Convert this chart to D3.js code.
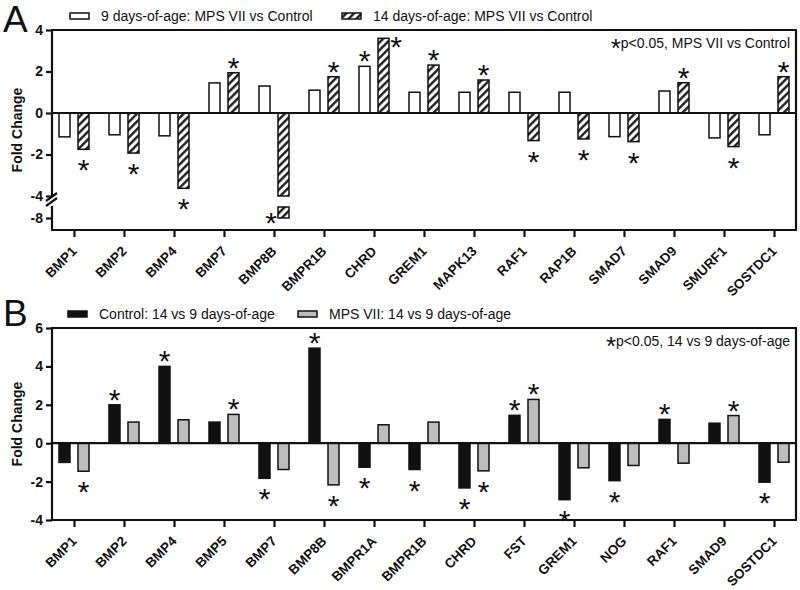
<!DOCTYPE html>
<html>
<head>
<meta charset="utf-8">
<script src="https://cdn.jsdelivr.net/npm/d3@7"></script>
<style>
    body { margin: 0; background: #fff; }
    svg text { font-family: "Liberation Sans", Arial, sans-serif; fill: #111; }
</style>
</head>
<body>
<svg id="chart"></svg>
<script>
// panel A: MPS VII vs Control
let genesA = ["BMP1", "BMP2", "BMP4", "BMP7", "BMP8B", "BMPR1B", "CHRD", "GREM1", "MAPK13",
    "RAF1", "RAP1B", "SMAD7", "SMAD9", "SMURF1", "SOSTDC1"];
let day9 = [-1.15, -1.05, -1.1, 1.45, 1.3, 1.1, 2.25, 1.0, 1.0, 1.0, 1.0, -1.14, 1.06, -1.2, -1.05];
let day14 = [-1.75, -1.93, -3.63, 1.94, -8.0, 1.75, 3.6, 2.31, 1.59, -1.33, -1.25, -1.38, 1.46, -1.62, 1.75];
let day9Sig = [0, 0, 0, 0, 0, 0, 1, 0, 0, 0, 0, 0, 0, 0, 0];
let day14Sig = [1, 1, 1, 1, 1, 1, 1, 1, 1, 1, 1, 1, 1, 1, 1];
let ticksA = [-4, -2, 0, 2, 4];
let ticksALow = [-8];

// panel B: 14 vs 9 days-of-age
let genesB = ["BMP1", "BMP2", "BMP4", "BMP5", "BMP7", "BMP8B", "BMPR1A", "BMPR1B", "CHRD", "FST",
    "GREM1", "NOG", "RAF1", "SMAD9", "SOSTDC1"];
let control = [-1.0, 2.0, 4.0, 1.1, -1.83, 4.95, -1.25, -1.37, -2.33, 1.45, -2.94, -1.95, 1.24, 1.04, -2.03];
let mps = [-1.46, 1.1, 1.22, 1.5, -1.37, -2.17, 0.96, 1.1, -1.44, 2.28, -1.28, -1.16, -1.04, 1.44, -0.99];
let controlSig = [0, 1, 1, 0, 1, 1, 1, 1, 1, 1, 1, 1, 1, 0, 1];
let mpsSig = [1, 0, 0, 1, 0, 1, 0, 0, 1, 1, 0, 0, 0, 1, 0];
let ticksB = [-4, -2, 0, 2, 4, 6];

let svg = d3.select("#chart").attr("width", 800).attr("height", 590);

let hatch = svg.append("defs").append("pattern")
    .attr("id", "hatch")
    .attr("patternUnits", "userSpaceOnUse")
    .attr("width", 5.5).attr("height", 5.5)
    .attr("patternTransform", "rotate(45)");
hatch.append("rect").attr("width", 5.5).attr("height", 5.5).attr("fill", "#fff");
hatch.append("line")
    .attr("x1", 1.3).attr("y1", 0).attr("x2", 1.3).attr("y2", 5.5)
    .attr("stroke", "#111").attr("stroke-width", 2.3);

let star = function (g, x, y) {
    // y is the visual centre of the asterisk
    g.append("text")
        .attr("x", x).attr("y", y + 17)
        .attr("text-anchor", "middle")
        .attr("font-size", "30px")
        .text("*");
};

let barPanel = function (options) {
    let self = {};

    for (let key in options) {
        self[key] = options[key];
    }

    self.init = function () {
        self.g = svg.append("g");
        self.bars = self.g.append("g");
        self.frame = self.g.append("g");
        self.marks = self.g.append("g");
    };

    self.render = function () {
        let x = d3.scalePoint().domain(self.genes).range([self.left, self.right]).padding(0.44);
        let y = d3.scaleLinear().domain(self.yDomain).range(self.yRange);
        let yLow = self.low ? d3.scaleLinear().domain(self.low.domain).range(self.low.range) : null;
        let breakAt = self.yDomain[0];
        let bw = 11, gap = 4;

        self.series.forEach(function (s, si) {
            let off = si === 0 ? -gap - bw : gap;
            let rows = self.genes.map(function (g, i) {
                return {g: g, v: s.values[i], sig: s.sig[i]};
            });

            self.bars.append("g")
                .selectAll("rect")
                .data(rows)
                .join("rect")
                .attr("x", d => x(d.g) + off)
                .attr("width", bw)
                .attr("y", d => Math.min(y(0), y(Math.max(d.v, breakAt))))
                .attr("height", d => Math.abs(y(0) - y(Math.max(d.v, breakAt))))
                .attr("fill", s.fill)
                .attr("stroke", "#111")
                .attr("stroke-width", 1.5);

            if (yLow) {
                self.bars.append("g")
                    .selectAll("rect")
                    .data(rows.filter(d => d.v < breakAt))
                    .join("rect")
                    .attr("x", d => x(d.g) + off)
                    .attr("width", bw)
                    .attr("y", self.low.range[1])
                    .attr("height", d => yLow(d.v) - self.low.range[1])
                    .attr("fill", s.fill)
                    .attr("stroke", "#111")
                    .attr("stroke-width", 1.5);
            }

            rows.forEach(function (d) {
                if (!d.sig) return;
                let cx = x(d.g) + off + bw / 2;
                if (d.v >= 0) {
                    let yy = y(d.v);
                    if (yy - 18 < self.top) star(self.marks, cx + bw / 2 + 7, yy + 2);
                    else star(self.marks, cx, yy - 12);
                } else {
                    let yy = d.v < breakAt ? yLow(d.v) : y(d.v);
                    if (yy + 20 > self.bottom) star(self.marks, cx - bw / 2 - 7, yy - 2);
                    else star(self.marks, cx, yy + 14);
                }
            });
        });

        let line = function (x1, y1, x2, y2) {
            self.frame.append("line")
                .attr("x1", x1).attr("y1", y1).attr("x2", x2).attr("y2", y2)
                .attr("stroke", "#111").attr("stroke-width", 2.2);
        };
        line(self.left - 1, self.top, self.right + 1, self.top);
        line(self.right, self.top, self.right, self.bottom);
        line(self.left - 1, self.bottom, self.right + 1, self.bottom);
        line(self.left, y(0), self.right, y(0));
        if (yLow) {
            line(self.left, self.top, self.left, y(breakAt) + 1);
            line(self.left, self.low.range[1] - 1, self.left, self.bottom);
            line(self.left - 6, y(breakAt) + 5, self.left + 5, y(breakAt) - 3);
            line(self.left - 6, y(breakAt) + 10, self.left + 5, y(breakAt) + 2);
        } else {
            line(self.left, self.top, self.left, self.bottom);
        }

        let styleAxis = function (a) {
            a.select(".domain").remove();
            a.selectAll(".tick line").attr("stroke", "#111").attr("stroke-width", 2.2);
            a.selectAll(".tick text")
                .attr("fill", "#111")
                .attr("font-size", "14px")
                .attr("font-weight", "bold")
                .attr("font-family", "Liberation Sans, Arial, sans-serif");
        };

        let yAxis = self.g.append("g")
            .attr("transform", "translate(" + self.left + ",0)")
            .call(d3.axisLeft(y).tickValues(self.yTicks).tickSize(6).tickPadding(3).tickFormat(d => String(d)));
        styleAxis(yAxis);
        if (yLow) {
            let yAxisLow = self.g.append("g")
                .attr("transform", "translate(" + self.left + ",0)")
                .call(d3.axisLeft(yLow).tickValues(self.low.ticks).tickSize(6).tickPadding(3).tickFormat(d => String(d)));
            styleAxis(yAxisLow);
        }

        let xAxis = self.g.append("g")
            .attr("transform", "translate(0," + self.bottom + ")")
            .call(d3.axisBottom(x).tickSize(7).tickSizeOuter(0));
        styleAxis(xAxis);
        xAxis.selectAll(".tick text")
            .attr("x", 0).attr("y", 0).attr("dy", 0)
            .attr("text-anchor", "end")
            .attr("font-size", "13.5px")
            .attr("transform", "translate(3,22) rotate(-45)");

        self.g.append("text")
            .attr("transform", "translate(22," + (self.top + self.bottom) / 2 + ") rotate(-90)")
            .attr("text-anchor", "middle")
            .attr("font-size", "14px")
            .attr("font-weight", "bold")
            .text("Fold Change");

        self.g.append("text")
            .attr("x", 3).attr("y", self.letterY)
            .attr("font-size", "37px")
            .text(self.letter);

        self.series.forEach(function (s) {
            self.g.append("rect")
                .attr("x", s.legendX).attr("y", self.legendY - 8)
                .attr("width", 19).attr("height", 6)
                .attr("fill", s.fill)
                .attr("stroke", "#111")
                .attr("stroke-width", 1.5);
            self.g.append("text")
                .attr("x", s.legendX + 31).attr("y", self.legendY)
                .attr("font-size", "14px")
                .text(s.name);
        });

        let note = self.g.append("text")
            .attr("x", self.right - 6).attr("y", self.top + 18)
            .attr("text-anchor", "end")
            .attr("font-size", "14px");
        note.append("tspan").attr("font-size", "26px").attr("dy", 9).text("*");
        note.append("tspan").attr("dy", -9).text(self.note);
    };

    self.init();
    return self;
};

barPanel({
    genes: genesA,
    left: 52, right: 796, top: 30, bottom: 230,
    yDomain: [-4, 4], yRange: [196, 30], yTicks: ticksA,
    low: {domain: [-8.58, -7.47], range: [230, 207], ticks: ticksALow},
    series: [
        {name: "9 days-of-age: MPS VII vs Control", values: day9, sig: day9Sig, fill: "#fff", legendX: 70},
        {name: "14 days-of-age: MPS VII vs Control", values: day14, sig: day14Sig, fill: "url(#hatch)", legendX: 342}
    ],
    legendY: 21,
    note: "p<0.05, MPS VII vs Control",
    letter: "A", letterY: 32
}).render();

barPanel({
    genes: genesB,
    left: 52, right: 796, top: 328, bottom: 520,
    yDomain: [-4, 6], yRange: [520, 328], yTicks: ticksB,
    series: [
        {name: "Control: 14 vs 9 days-of-age", values: control, sig: controlSig, fill: "#111", legendX: 68},
        {name: "MPS VII: 14 vs 9 days-of-age", values: mps, sig: mpsSig, fill: "#bdbdbd", legendX: 298}
    ],
    legendY: 319,
    note: "p<0.05, 14 vs 9 days-of-age",
    letter: "B", letterY: 326
}).render();
</script>
</body>
</html>
